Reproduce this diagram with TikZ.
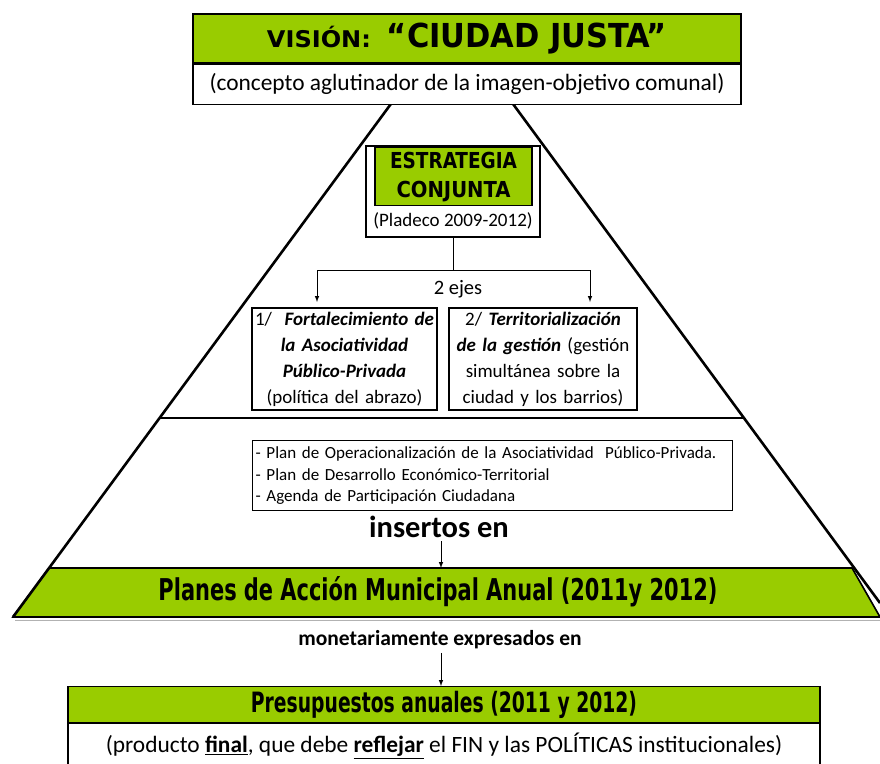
\documentclass[tikz,border=0pt]{standalone}
\usepackage{fontspec}
\setmainfont{Carlito}
\newfontfamily\headfont{DejaVu Sans Condensed}
\usepackage{graphicx}
\usepackage{tikz}
\usetikzlibrary{calc}
\usetikzlibrary{arrows}
\usetikzlibrary{positioning}
\definecolor{vgreen}{HTML}{99CC00}
\tikzset{box/.style={draw=black,fill=white,line width=1.2pt,inner sep=0pt}}
\tikzset{gbox/.style={draw=black,fill=vgreen,line width=1.2pt,inner sep=0pt}}
\tikzset{tri/.style={line width=2.6pt}}
\tikzset{arr/.style={-latex,line width=1pt}}
\newcommand{\hx}[2]{\resizebox{#1}{\height}{#2}}
\newcommand{\hd}[3]{{\headfont\bfseries\fontsize{#1}{#1}\selectfont\hx{#2}{#3}}}

\begin{document}
\begin{tikzpicture}[x=1pt,y=-1pt]
\useasboundingbox (0,0) rectangle (880,763);
\coordinate (apex) at (452,21);
\coordinate (L) at (13,617);
\coordinate (R) at (880,603);
\coordinate (mL) at (160,418);
\coordinate (mR) at (743,418);

% franja verde (planes de accion)
\draw[gray!60,line width=1pt] (15,620.5)--(880,620.5);
\draw[line width=1.6pt,fill=vgreen] (49,568)--(852,568)--(880,617)--(13,617)--cycle;
\node (planes) at (438,592) {\hd{30}{559pt}{Planes de Acción Municipal Anual (2011y 2012)}};

\draw[tri] (L)--(apex)--(R);
\draw[line width=2.3pt] (mL)--(mR);

% vision
\node[gbox,minimum width=548,minimum height=49] (vis) at (467,38.5)
  {\hd{23}{104pt}{VISIÓN:}\hspace{16pt}\hd{33}{280pt}{“CIUDAD JUSTA”}};
\node[box,minimum width=548,minimum height=40,below=0pt of vis] (vsub)
  {\fontsize{23.4}{26}\selectfont (concepto aglutinador de la imagen-objetivo comunal)};

% estrategia
\node[box,minimum width=174,minimum height=91] (est) at (453,191.5) {};
\node[gbox,minimum width=157,minimum height=58,anchor=north,align=center,
  font=\headfont\bfseries\fontsize{22}{29}\selectfont] (estg) at (453.5,147)
  {\hx{127pt}{ESTRATEGIA}\\\hx{114pt}{CONJUNTA}};
\node (plad) at (453,221) {\fontsize{19}{20}\selectfont (Pladeco 2009-2012)};

\coordinate (h1) at (317,270);
\coordinate (h2) at (590,270);
\coordinate (a1) at (317,302);
\coordinate (a2) at (590,302);
\draw[line width=1pt] (est.south) -- (est.south |- h1) (h1) -- (h2);
\draw[arr] (h1) -- (a1);
\draw[arr] (h2) -- (a2);
\node (ejes) at (458,289) {\fontsize{20.5}{22}\selectfont 2 ejes};

\node[box,minimum width=185,minimum height=102,text width=183,align=center,
  font=\fontsize{19}{26}\selectfont] (eje1) at (344.5,359)
  {1/\ \ \textbf{\textit{Fortalecimiento de}}\\\textbf{\textit{la Asociatividad}}\\\textbf{\textit{Público-Privada}}\\(política del abrazo)};
\node[box,minimum width=188,minimum height=102,text width=186,align=center,
  font=\fontsize{19}{26}\selectfont] (eje2) at (543,359)
  {2/ \textbf{\textit{Territorialización}}\\\textbf{\textit{de la gestión}} (gestión\\simultánea sobre la\\ciudad y los barrios)};

% planes
\node[box,minimum width=480,minimum height=70,text width=474,align=left,anchor=north west,
  font=\fontsize{17}{21.5}\selectfont] (plans) at (252,440)
  {- Plan de Operacionalización de la Asociatividad\ \ Público-Privada.\\- Plan de Desarrollo Económico-Territorial\\- Agenda de Participación Ciudadana};

\node (ins) at (439,527) {\bfseries\fontsize{30.5}{32}\selectfont insertos en};
\coordinate (bandtop) at (441,568);
\draw[arr] (ins.south -| bandtop) -- (bandtop);

\node (mon) at (440,640) {\bfseries\fontsize{21.5}{24}\selectfont monetariamente expresados en};

% presupuestos
\node[gbox,minimum width=752,minimum height=36,anchor=north] (pres) at (444,686)
  {\hd{28}{386pt}{Presupuestos anuales (2011 y 2012)}};
\node[box,minimum width=752,minimum height=44,below=0pt of pres] (fin)
  {\fontsize{23.4}{26}\selectfont (producto \underline{\textbf{final}}, que debe \underline{\textbf{reflejar}} el FIN y las POLÍTICAS institucionales)};
\draw[arr] (mon.south -| bandtop) -- (pres.north -| bandtop);
\end{tikzpicture}
\end{document}
